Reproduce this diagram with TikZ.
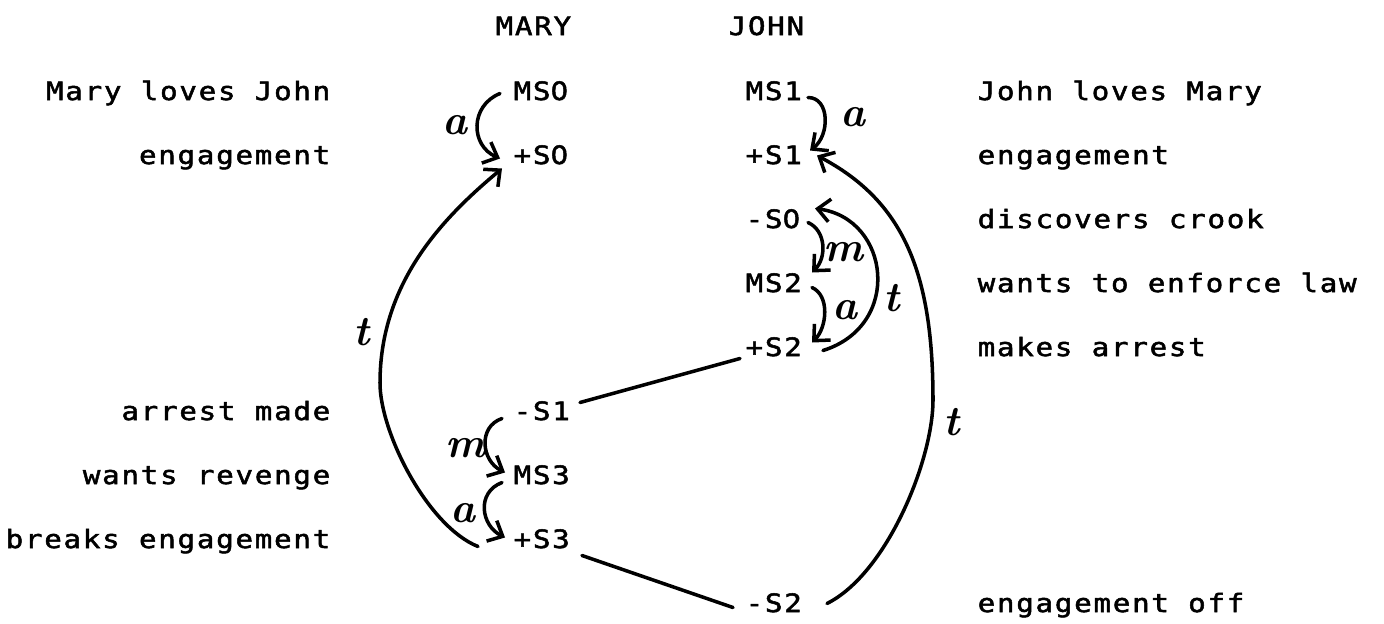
\documentclass[tikz,border=0pt]{standalone}
\usepackage{fontspec}
\newfontfamily\tw[LetterSpace=7, FakeStretch=1.15, FakeBold=2]{DejaVu Sans Mono}
\newfontfamily\plainzero[FakeStretch=1.1, FakeBold=2]{DejaVu Sans}
\usetikzlibrary{arrows.meta}
\begin{document}
\begin{tikzpicture}[x=0.01cm, y=-0.01cm,
  txt/.style={font=\tw\fontsize{7.2pt}{8pt}\selectfont, inner sep=0pt},
  st/.style={txt, anchor=base west, text height=4.84pt, text depth=0pt},
  lbl/.style={txt, anchor=base east},
  rlbl/.style={txt, anchor=base west},
  hw/.style={font=\fontsize{12pt}{12pt}\selectfont\bfseries\itshape, inner sep=0pt},
  conn/.style={line width=1pt, line cap=round},
  arr/.style={conn, -{Straight Barb[length=3.5pt,width=6.5pt]}}]
\useasboundingbox (0,0) rectangle (1384,623);

% column headings
\node[rlbl] (hmary) at (495,35) {MARY};
\node[rlbl] (hjohn) at (728,35) {JOHN};

% Mary's states
\node[st] (ms0) at (513,100) {MS{\plainzero 0}};
\node[st] (ps0) at (513,164) {+S{\plainzero 0}};
\node[st] (ns1) at (513,420) {-S1};
\node[st] (ms3) at (513,484) {MS3};
\node[st] (ps3) at (513,548) {+S3};

% John's states
\node[st] (ms1) at (745,100) {MS1};
\node[st] (ps1) at (745,164) {+S1};
\node[st] (ns0) at (745,228) {-S{\plainzero 0}};
\node[st] (ms2) at (745,292) {MS2};
\node[st] (ps2) at (745,356) {+S2};
\node[st] (ns2) at (745,612) {-S2};

% descriptions, Mary side
\node[lbl] (dm0) at (331,100) {Mary loves John};
\node[lbl] (dm1) at (331,164) {engagement};
\node[lbl] (dm2) at (331,420) {arrest made};
\node[lbl] (dm3) at (331,484) {wants revenge};
\node[lbl] (dm4) at (331,548) {breaks engagement};

% descriptions, John side
\node[rlbl] (dj0) at (977,100) {John loves Mary};
\node[rlbl] (dj1) at (977,164) {engagement};
\node[rlbl] (dj2) at (977,228) {discovers crook};
\node[rlbl] (dj3) at (977,292) {wants to enforce law};
\node[rlbl] (dj4) at (977,356) {makes arrest};
\node[rlbl] (dj5) at (977,612) {engagement off};

% transition letters
\node[hw] (la1) at (455,125) {a};
\node[hw] (la2) at (853,117) {a};
\node[hw] (lt1) at (362,332) {t};
\node[hw] (lt2) at (892,298) {t};
\node[hw] (lm1) at (843,252) {m};
\node[hw] (la3) at (845,310) {a};
\node[hw] (lt3) at (952,422) {t};
\node[hw] (lm2) at (465,448) {m};
\node[hw] (la4) at (463,513) {a};

\coordinate (bendL) at (380,383);
\coordinate (bendR) at (933,400);

% short arcs
\draw[arr] ([shift={(-13,2)}]ms0.west) .. controls +(-30,12) and +(-30,-13) .. ([shift={(-13,3)}]ps0.west);
\draw[arr] ([shift={(63,6)}]ms1.west) .. controls +(22,0) and +(20,-15) .. ([shift={(65,-5)}]ps1.west);
\draw[arr] ([shift={(63,3)}]ns0.west) .. controls +(18,8) and +(15,-15) .. ([shift={(67,-11)}]ms2.west);
\draw[arr] ([shift={(67,4)}]ms2.west) .. controls +(18,8) and +(15,-15) .. ([shift={(67,-5)}]ps2.west);
\draw[arr] ([shift={(-11,7)}]ns1.west) .. controls +(-24,8) and +(-24,-12) .. ([shift={(-8,-3)}]ms3.west);
\draw[arr] ([shift={(-11,7)}]ms3.west) .. controls +(-26,10) and +(-24,-12) .. ([shift={(-8,-2)}]ps3.west);

% t arc from +S2 back to -S0
\draw[arr] ([shift={(78,3)}]ps2.west) .. controls +(80,-25) and +(75,10) .. ([shift={(70,-11)}]ns0.west);

% long t arcs
\draw[arr] ([shift={(-35,7)}]ps3.west) .. controls +(-50,-20) and +(0,50) .. (bendL)
  .. controls +(0,-100) and +(-60,50) .. ([shift={(-11,13)}]ps0.west);
\draw[arr] ([shift={(82,0)}]ns2.west) .. controls +(60,-30) and +(0,60) .. (bendR)
  .. controls +(0,-130) and +(85,45) .. ([shift={(72,0)}]ps1.west);

% plain links
\draw[conn] ([shift={(67,-9)}]ns1.west) -- ([shift={(-5,11)}]ps2.west);
\draw[conn] ([shift={(69,16)}]ps3.west) -- ([shift={(-12,4)}]ns2.west);
\end{tikzpicture}
\end{document}
